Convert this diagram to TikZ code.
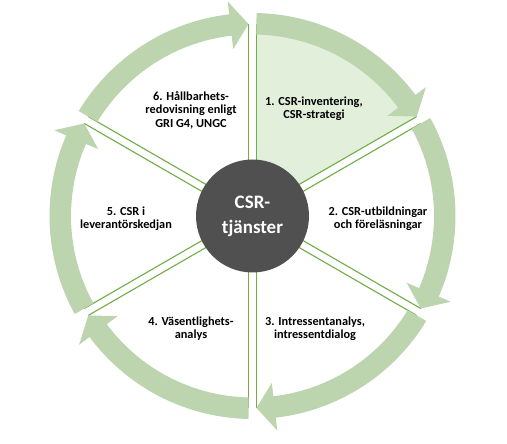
\documentclass[tikz,border=0pt]{standalone}
\usepackage{fontspec}
\setmainfont{Carlito}
\usetikzlibrary{calc}
\definecolor{bandgreen}{RGB}{188,213,175}
\definecolor{shadegreen}{RGB}{226,239,218}
\definecolor{linegreen}{RGB}{112,173,71}
\definecolor{hubgray}{RGB}{80,80,80}
\tikzset{
  sepline/.style={draw=linegreen, line width=1.1pt},
  cyclearrow/.style={fill=bandgreen},
  lbl/.style={font=\fontsize{12.3}{13.4}\selectfont\bfseries, align=center, text=black, inner sep=0pt},
  hub/.style={circle, fill=hubgray, minimum size=113pt, inner sep=0pt, text=white, align=center,
    font=\fontsize{19}{25}\selectfont\bfseries}
}
\begin{document}
\begin{tikzpicture}[x=1pt,y=1pt]
\useasboundingbox (0,0) rectangle (507,444);
\coordinate (C) at (252.5,228);
% shaded sector 1
\fill[shadegreen] ($(C)+(60:8)$) -- ($(C)+(88.8:192)$) arc[start angle=88.8,end angle=31.2,radius=192] -- cycle;
% sector border lines
\foreach \a in {90,30,-30,-90,-150,-210} {
  \pgfmathsetmacro\ap{\a+90}
  \pgfmathsetmacro\am{\a-90}
  \draw[sepline] ($(C)+(\ap:4)$) -- ($(C)+(\a:192)+(\ap:4)$);
  \draw[sepline] ($(C)+(\am:4)$) -- ($(C)+(\a:192)+(\am:4)$);
}
% curved arrows
\foreach \a in {90,30,-30,-90,-150,-210} {
  \pgfmathsetmacro\so{\a-1.13}
  \pgfmathsetmacro\si{\a-1.26}
  \pgfmathsetmacro\b{\a-60+6.6}
  \pgfmathsetmacro\t{\a-60+1.19}
  \fill[cyclearrow] ($(C)+(\so:203)$) arc[start angle=\so, end angle=\b, radius=203]
     -- ($(C)+(\b:216)$) -- ($(C)+(\t:192)$) -- ($(C)+(\b:168)$) -- ($(C)+(\b:181.5)$)
     arc[start angle=\b, end angle=\si, radius=181.5] -- cycle;
}
% hub
\node[hub] (hubnode) at (C) {CSR-\\tjänster};
% labels
\node[lbl] (l1) at (314,335) {1. CSR-inventering,\\CSR-strategi};
\node[lbl] (l2) at (378,225) {2. CSR-utbildningar\\och föreläsningar};
\node[lbl] (l3) at (315,115.5) {3. Intressentanalys,\\intressentdialog};
\node[lbl] (l4) at (191,115.5) {4. Väsentlighets-\\analys};
\node[lbl] (l5) at (126,225.5) {5. CSR i\\leverantörskedjan};
\node[lbl] (l6) at (191,334) {6. Hållbarhets-\\redovisning enligt\\GRI G4, UNGC};
\end{tikzpicture}
\end{document}
